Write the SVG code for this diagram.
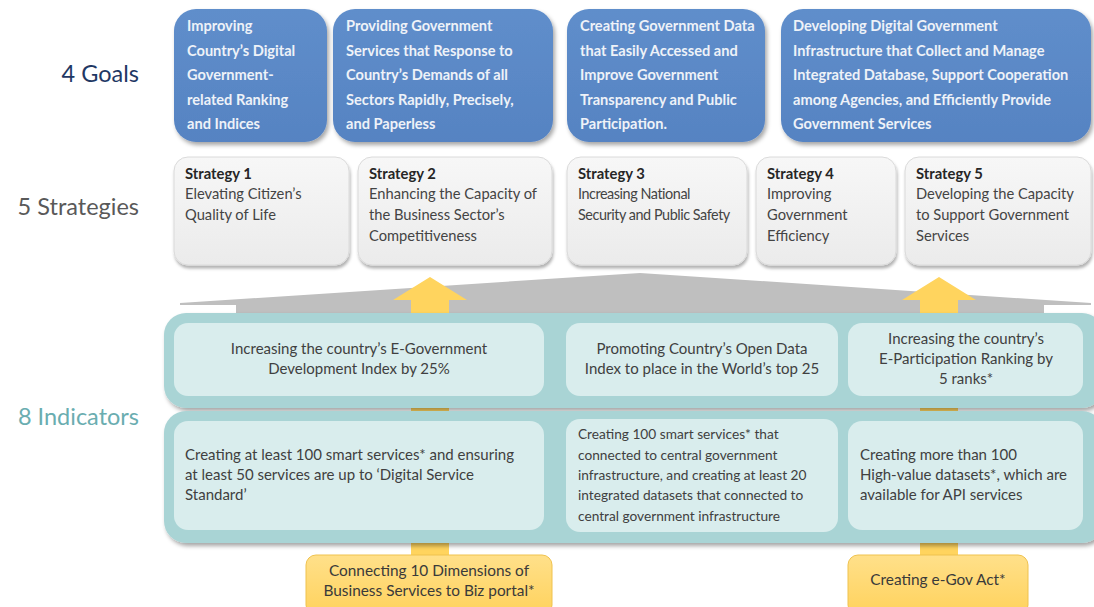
<svg xmlns="http://www.w3.org/2000/svg" width="1094" height="607" viewBox="0 0 1094 607">
<defs>
<filter id="sh" x="-10%" y="-10%" width="125%" height="130%">
<feDropShadow dx="2" dy="3" stdDeviation="2" flood-color="#000" flood-opacity="0.35"/>
</filter>
<filter id="sh2" x="-5%" y="-10%" width="115%" height="130%">
<feDropShadow dx="1" dy="3" stdDeviation="1.5" flood-color="#000" flood-opacity="0.3"/>
</filter>
<linearGradient id="blue" x1="0" y1="0" x2="0" y2="1">
<stop offset="0" stop-color="#5F8ECB"/><stop offset="1" stop-color="#5683C2"/>
</linearGradient>
<linearGradient id="gray" x1="0" y1="0" x2="0" y2="1">
<stop offset="0" stop-color="#F7F7F7"/><stop offset="1" stop-color="#EBEBEB"/>
</linearGradient>
<linearGradient id="yel" x1="0" y1="0" x2="0" y2="1">
<stop offset="0" stop-color="#FFE08A"/><stop offset="1" stop-color="#FFD25C"/>
</linearGradient>
<style>
text{font-family:Lato,"Liberation Sans",sans-serif}
.goal rect{fill:url(#blue);filter:url(#sh)}
.goal text{fill:#EEF2F8;font-weight:700;font-size:14.6px}
.strat rect{fill:url(#gray);stroke:#DADADA;stroke-width:1;filter:url(#sh2)}
.strat .t{fill:#262626;font-weight:700;font-size:14.8px}
.strat .b{fill:#444;font-size:14.7px}
.lab{font-size:23.5px;text-anchor:end}
.panel{fill:#A9D4D5;filter:url(#sh)}
.ind rect{fill:#D9EDED}
.ind text{fill:#404040;font-size:15px}
.c{text-anchor:middle}
.ybox rect{fill:url(#yel);stroke:#EFC24E;stroke-width:1}
.ybox text{fill:#3A3A3A;font-size:15.4px;text-anchor:middle}
.arr{fill:#FFD45E}
</style>
</defs>
<rect width="1094" height="607" fill="#FFFFFF"/>

<g id="labels">
<text class="lab" x="139" y="82" fill="#1F3864">4 Goals</text>
<text class="lab" x="139" y="215" fill="#595959">5 Strategies</text>
<text class="lab" x="139" y="425" fill="#6AADB0">8 Indicators</text>
</g>

<g id="goal1" class="goal">
<rect x="174" y="9" width="153" height="133" rx="22"/>
<text x="187" y="31">Improving</text>
<text x="187" y="55.5">Country’s Digital</text>
<text x="187" y="80">Government-</text>
<text x="187" y="104.5">related Ranking</text>
<text x="187" y="129">and Indices</text>
</g>
<g id="goal2" class="goal">
<rect x="333" y="9" width="220" height="133" rx="22"/>
<text x="346" y="31">Providing Government</text>
<text x="346" y="55.5">Services that Response to</text>
<text x="346" y="80">Country’s Demands of all</text>
<text x="346" y="104.5">Sectors Rapidly, Precisely,</text>
<text x="346" y="129">and Paperless</text>
</g>
<g id="goal3" class="goal">
<rect x="567" y="9" width="198" height="133" rx="22"/>
<text x="580" y="31">Creating Government Data</text>
<text x="580" y="55.5">that Easily Accessed and</text>
<text x="580" y="80">Improve Government</text>
<text x="580" y="104.5">Transparency and Public</text>
<text x="580" y="129">Participation.</text>
</g>
<g id="goal4" class="goal">
<rect x="781" y="9" width="310" height="133" rx="22"/>
<text x="793" y="31">Developing Digital Government</text>
<text x="793" y="55.5">Infrastructure that Collect and Manage</text>
<text x="793" y="80">Integrated Database, Support Cooperation</text>
<text x="793" y="104.5">among Agencies, and Efficiently Provide</text>
<text x="793" y="129">Government Services</text>
</g>

<g id="strategy1" class="strat">
<rect x="174" y="157" width="175" height="108" rx="14"/>
<text class="t" x="185" y="179">Strategy 1</text>
<text class="b" x="185" y="199">Elevating Citizen’s</text>
<text class="b" x="185" y="220">Quality of Life</text>
</g>
<g id="strategy2" class="strat">
<rect x="358" y="157" width="194" height="108" rx="14"/>
<text class="t" x="369" y="179">Strategy 2</text>
<text class="b" x="369" y="199">Enhancing the Capacity of</text>
<text class="b" x="369" y="220">the Business Sector’s</text>
<text class="b" x="369" y="241">Competitiveness</text>
</g>
<g id="strategy3" class="strat">
<rect x="567" y="157" width="180" height="108" rx="14"/>
<text class="t" x="578" y="179">Strategy 3</text>
<text class="b" x="578" y="199" style="font-size:14.4px;letter-spacing:-0.45px">Increasing National</text>
<text class="b" x="578" y="220" style="font-size:14.4px;letter-spacing:-0.45px">Security and Public Safety</text>
</g>
<g id="strategy4" class="strat">
<rect x="756" y="157" width="140" height="108" rx="14"/>
<text class="t" x="767" y="179">Strategy 4</text>
<text class="b" x="767" y="199">Improving</text>
<text class="b" x="767" y="220">Government</text>
<text class="b" x="767" y="241">Efficiency</text>
</g>
<g id="strategy5" class="strat">
<rect x="905" y="157" width="186" height="108" rx="14"/>
<text class="t" x="916" y="179">Strategy 5</text>
<text class="b" x="916" y="199">Developing the Capacity</text>
<text class="b" x="916" y="220">to Support Government</text>
<text class="b" x="916" y="241">Services</text>
</g>

<g id="connectors">
<polygon points="180,303 640,273 1091,303 1091,305 1044,305 1044,314 236,314 236,305 180,305" fill="#BFBFBF"/>
<polygon class="arr" points="411,300 393,300 430,277 467,300 449,300 449,556 411,556"/>
<polygon class="arr" points="920,300 902,300 939,277 976,300 958,300 958,556 920,556"/>
</g>

<g id="panel-top">
<rect class="panel" x="164" y="313" width="940" height="95" rx="22"/>
</g>
<g id="panel-bottom">
<rect class="panel" x="164" y="411" width="940" height="132" rx="22"/>
</g>

<g id="indicator1" class="ind">
<rect x="174" y="323" width="370" height="73" rx="14"/>
<text class="c" x="359" y="354">Increasing the country’s E-Government</text>
<text class="c" x="359" y="374">Development Index by 25%</text>
</g>
<g id="indicator2" class="ind">
<rect x="566" y="323" width="272" height="73" rx="14"/>
<text class="c" x="702" y="354">Promoting Country’s Open Data</text>
<text class="c" x="702" y="374">Index to place in the World’s top 25</text>
</g>
<g id="indicator3" class="ind">
<rect x="848" y="323" width="235" height="73" rx="14"/>
<text class="c" x="966" y="344">Increasing the country’s</text>
<text class="c" x="966" y="364">E-Participation Ranking by</text>
<text class="c" x="966" y="384">5 ranks*</text>
</g>
<g id="indicator4" class="ind">
<rect x="174" y="421" width="370" height="109" rx="14"/>
<text x="185" y="460">Creating at least 100 smart services* and ensuring</text>
<text x="185" y="480">at least 50 services are up to ‘Digital Service</text>
<text x="185" y="500">Standard’</text>
</g>
<g id="indicator5" class="ind">
<rect x="566" y="419" width="272" height="113" rx="14"/>
<text x="578" y="439" style="font-size:13.7px">Creating 100 smart services* that</text>
<text x="578" y="460" style="font-size:13.7px">connected to central government</text>
<text x="578" y="480" style="font-size:13.7px">infrastructure, and creating at least 20</text>
<text x="578" y="500" style="font-size:13.7px">integrated datasets that connected to</text>
<text x="578" y="521" style="font-size:13.7px">central government infrastructure</text>
</g>
<g id="indicator6" class="ind">
<rect x="848" y="421" width="235" height="109" rx="14"/>
<text x="860" y="460">Creating more than 100</text>
<text x="860" y="480">High-value datasets*, which are</text>
<text x="860" y="500">available for API services</text>
</g>

<g id="measure1" class="ybox">
<rect x="306" y="555" width="246" height="60" rx="10"/>
<text x="429" y="576">Connecting 10 Dimensions of</text>
<text x="429" y="596">Business Services to Biz portal*</text>
</g>
<g id="measure2" class="ybox">
<rect x="848" y="555" width="180" height="60" rx="10"/>
<text x="938" y="585">Creating e-Gov Act*</text>
</g>
</svg>
